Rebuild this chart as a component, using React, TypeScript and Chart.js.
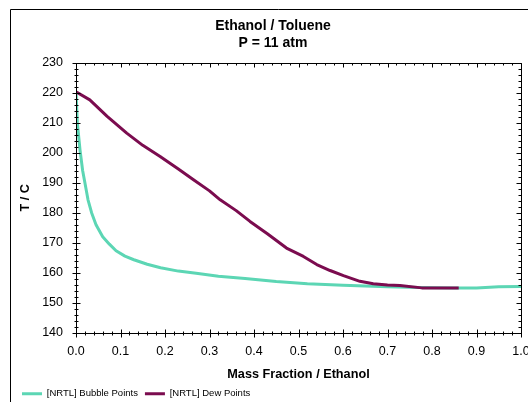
import React, { useEffect, useRef } from 'react';
import { Chart, registerables } from 'chart.js';

Chart.register(...registerables);

// ---- Data ----
const titleLines = ['Ethanol / Toluene', 'P = 11 atm'];
const xTitle = 'Mass Fraction / Ethanol';
const yTitle = 'T / C';
const seriesNames = ['[NRTL] Bubble Points', '[NRTL] Dew Points'];

const bubbleX = [0, 0.003, 0.009, 0.015, 0.02, 0.027, 0.035, 0.045, 0.06, 0.075, 0.09, 0.11, 0.13, 0.16, 0.19, 0.23, 0.27, 0.32, 0.38, 0.45, 0.52, 0.6, 0.65, 0.7, 0.77, 0.85, 0.9, 0.95, 1.0];
const bubbleT = [220.4, 210, 201, 194, 190, 184.3, 180, 176, 172, 169.5, 167.3, 165.5, 164.3, 162.8, 161.6, 160.5, 159.8, 158.8, 158, 157, 156.3, 155.8, 155.5, 155.3, 155.0, 154.9, 154.9, 155.3, 155.4];

const dewX = [0, 0.031, 0.07, 0.114, 0.15, 0.189, 0.23, 0.264, 0.3, 0.324, 0.36, 0.391, 0.43, 0.473, 0.511, 0.541, 0.571, 0.601, 0.638, 0.668, 0.7, 0.728, 0.777, 0.82, 0.86];
const dewT = [220.4, 217.7, 212.2, 206.6, 202.5, 198.8, 194.6, 191, 187.3, 184.3, 180.7, 177.1, 173, 168.2, 165.4, 162.7, 160.7, 159, 157.1, 156.3, 155.9, 155.7, 154.9, 154.9, 154.9];

const xMin = 0, xMax = 1, xStep = 0.1, xMinorStep = 0.02;
const yMin = 140, yMax = 230, yStep = 10, yMinorStep = 2;

const bubbleColor = '#5CD6B4';
const dewColor = '#7B0C4F';

const W = 546;
const H = 420;

const framePlugin = {
  id: 'frameAxes',
  beforeDraw(chart: any) {
    const ctx = chart.ctx;
    ctx.save();
    ctx.fillStyle = '#fff';
    ctx.fillRect(0, 0, chart.width, chart.height);
    ctx.strokeStyle = '#000';
    ctx.lineWidth = 1;
    ctx.beginPath();
    ctx.moveTo(10.5, chart.height);
    ctx.lineTo(10.5, 9.5);
    ctx.lineTo(chart.width, 9.5);
    ctx.stroke();
    ctx.restore();
  },
  afterDatasetsDraw(chart: any) {
    const { ctx, chartArea: a, scales } = chart;
    const xs = scales.x, ys = scales.y;
    const L = Math.round(a.left) + 0.5;
    const R = Math.round(a.right) + 0.5;
    const T = Math.round(a.top) + 0.5;
    const B = Math.round(a.bottom) + 0.5;
    ctx.save();
    ctx.strokeStyle = '#000';
    ctx.lineWidth = 1;
    ctx.beginPath();
    ctx.moveTo(L, T); ctx.lineTo(R, T); ctx.lineTo(R, B); ctx.lineTo(L, B); ctx.closePath();
    const nx = Math.round((xMax - xMin) / xMinorStep);
    const per = Math.round(xStep / xMinorStep);
    for (let i = 0; i <= nx; i++) {
      const px = Math.round(xs.getPixelForValue(xMin + i * xMinorStep)) + 0.5;
      const major = i % per === 0;
      const len = major ? 4 : 2;
      ctx.moveTo(px, B - len); ctx.lineTo(px, B + len);
      ctx.moveTo(px, T); ctx.lineTo(px, T + (major ? 4 : 2));
    }
    const ny = Math.round((yMax - yMin) / yMinorStep);
    const pery = Math.round(yStep / yMinorStep);
    for (let j = 0; j <= ny; j++) {
      const py = Math.round(ys.getPixelForValue(yMin + j * yMinorStep)) + 0.5;
      const major = j % pery === 0;
      const len = major ? 4 : 2;
      ctx.moveTo(L - len, py); ctx.lineTo(L + len, py);
      ctx.moveTo(R, py); ctx.lineTo(R - (major ? 5 : 3), py);
    }
    ctx.stroke();
    ctx.restore();
  },
};

export default function App() {
  const ref = useRef<HTMLCanvasElement>(null);
  useEffect(() => {
    Chart.defaults.font.family = "'Liberation Sans', Arial, sans-serif";
    Chart.defaults.color = '#000';
    const bubble = bubbleX.map((x, i) => ({ x, y: bubbleT[i] }));
    const dew = dewX.map((x, i) => ({ x, y: dewT[i] }));
    const chart = new Chart(ref.current as HTMLCanvasElement, {
      type: 'line',
      data: {
        datasets: [
          {
            label: seriesNames[0], data: bubble, borderColor: bubbleColor, backgroundColor: bubbleColor,
            borderWidth: 3, pointRadius: 0, tension: 0, fill: false, order: 2,
            borderJoinStyle: 'round', borderCapStyle: 'butt',
          },
          {
            label: seriesNames[1], data: dew, borderColor: dewColor, backgroundColor: dewColor,
            borderWidth: 3, pointRadius: 0, tension: 0, fill: false, order: 1,
            borderJoinStyle: 'round', borderCapStyle: 'butt',
          },
        ],
      },
      options: {
        responsive: false,
        devicePixelRatio: 1,
        animation: false,
        events: [],
        layout: { padding: { left: 15, right: 15, top: 0, bottom: 11.5 } },
        plugins: {
          title: {
            display: true, text: titleLines, color: '#000',
            font: { size: 14, weight: 'bold', lineHeight: 1.2 },
            padding: { top: 17.6, bottom: 11.8 },
          },
          legend: {
            display: true, position: 'bottom', align: 'start',
            labels: {
              boxWidth: 20, boxHeight: 3, padding: 7, color: '#000',
              font: { size: 9.5 },
              sort: (a: any, b: any) => a.datasetIndex - b.datasetIndex,
              generateLabels: (c: any) =>
                Chart.defaults.plugins.legend.labels.generateLabels(c).map((l: any) => ({ ...l, lineWidth: 0 })),
            },
          },
          tooltip: { enabled: false },
        },
        scales: {
          x: {
            type: 'linear', min: xMin, max: xMax,
            grid: { display: false, drawTicks: false },
            border: { display: false },
            ticks: {
              stepSize: xStep, padding: 12, maxRotation: 0, autoSkip: false, color: '#000',
              font: { size: 12.5 },
              callback: (v: any) => Number(v).toFixed(1),
            },
            title: { display: true, text: xTitle, color: '#000', font: { size: 12.7, weight: 'bold' }, padding: { top: 0, bottom: 0 } },
            afterFit: (s: any) => { s.height = 49.5; },
          },
          y: {
            type: 'linear', position: 'left', min: yMin, max: yMax,
            grid: { display: false, drawTicks: false },
            border: { display: false },
            ticks: { stepSize: yStep, padding: 13, color: '#000', font: { size: 12.5 } },
            title: { display: true, text: yTitle, color: '#000', font: { size: 12.7, weight: 'bold' }, padding: { top: 2.4, bottom: 0 } },
            afterFit: (s: any) => { s.width = 61; },
          },
          y2: {
            type: 'linear', position: 'right', min: yMin, max: yMax,
            grid: { display: false, drawTicks: false },
            border: { display: false },
            ticks: { display: false },
            afterFit: (s: any) => { s.width = 10; },
          },
        },
      } as any,
      plugins: [framePlugin],
    });
    return () => chart.destroy();
  }, []);
  return (
    <div style={{ position: 'fixed', left: 0, top: 0, width: 528, height: 402, overflow: 'hidden', background: '#fff' }}>
      <canvas ref={ref} width={W} height={H} style={{ display: 'block', width: W, height: H }} />
    </div>
  );
}
